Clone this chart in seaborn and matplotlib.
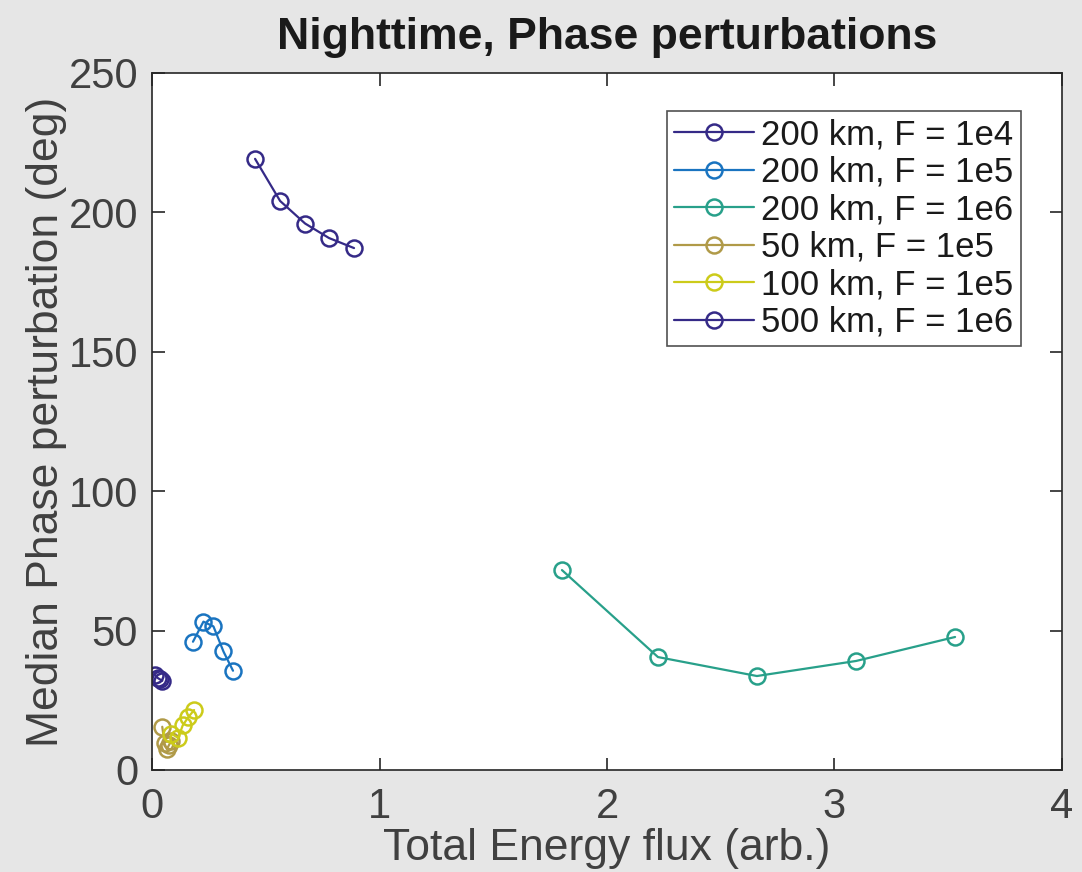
import matplotlib
matplotlib.use("Agg")
import matplotlib.pyplot as plt
import seaborn as sns
import pandas as pd

labels = ["200 km, F = 1e4", "200 km, F = 1e5", "200 km, F = 1e6",
          "50 km, F = 1e5", "100 km, F = 1e5", "500 km, F = 1e6"]
colors = ["#352a87", "#1a74c0", "#28a08a", "#b09a48", "#cccb1a", "#352a87"]

x_200_1e4 = [0.015, 0.025, 0.035, 0.045]
y_200_1e4 = [34.0, 33.0, 32.5, 32.0]
x_200_1e5 = [0.18, 0.226, 0.27, 0.314, 0.356]
y_200_1e5 = [46.0, 53.2, 51.5, 42.5, 35.6]
x_200_1e6 = [1.802, 2.224, 2.659, 3.095, 3.53]
y_200_1e6 = [71.7, 40.5, 33.7, 39.1, 47.7]
x_50_1e5 = [0.045, 0.055, 0.065, 0.075, 0.085]
y_50_1e5 = [15.5, 9.5, 7.5, 9.0, 10.5]
x_100_1e5 = [0.085, 0.115, 0.135, 0.16, 0.185]
y_100_1e5 = [13.0, 11.5, 16.0, 19.0, 21.5]
x_500_1e6 = [0.453, 0.563, 0.673, 0.778, 0.888]
y_500_1e6 = [219.2, 204.1, 196.0, 190.8, 187.2]

xs = [x_200_1e4, x_200_1e5, x_200_1e6, x_50_1e5, x_100_1e5, x_500_1e6]
ys = [y_200_1e4, y_200_1e5, y_200_1e6, y_50_1e5, y_100_1e5, y_500_1e6]

sns.set_theme(style="white")
plt.rcParams['font.family'] = ['Liberation Sans', 'DejaVu Sans']

fig = plt.figure(figsize=(10.82, 8.72), dpi=100)
fig.patch.set_facecolor("#e6e6e6")
ax = fig.add_axes([0.1405, 0.117, 0.841, 0.7993])
ax.set_facecolor("white")

for xv, yv, lab, c in zip(xs, ys, labels, colors):
    df = pd.DataFrame({"x": xv, "y": yv})
    sns.lineplot(data=df, x="x", y="y", ax=ax, color=c, marker="o",
                 markersize=11.5, markerfacecolor="none", markeredgecolor=c,
                 markeredgewidth=1.8, linewidth=1.6, sort=False,
                 estimator=None, label=lab)

ax.set_xlim(0, 4)
ax.set_ylim(0, 250)
ax.set_xticks([0, 1, 2, 3, 4])
ax.set_yticks([0, 50, 100, 150, 200, 250])
ax.tick_params(direction="in", length=9, width=1.2, colors="#262626",
               labelsize=30, top=True, right=True, bottom=True, left=True)
ax.tick_params(axis="x", pad=12)
ax.tick_params(axis="y", pad=10)
for tl in ax.get_xticklabels() + ax.get_yticklabels():
    tl.set_color("#404040")
for s in ax.spines.values():
    s.set_color("#262626")
    s.set_linewidth(1.2)

ax.set_xlabel("Total Energy flux (arb.)", fontsize=32, color="#404040", labelpad=1)
ax.set_ylabel("Median Phase perturbation (deg)", fontsize=32, color="#404040", labelpad=1)
ax.set_title("Nighttime, Phase perturbations", fontsize=32, fontweight="bold",
             color="#1a1a1a", pad=17)

leg = ax.legend(loc="upper right", bbox_to_anchor=(0.955, 0.946), fontsize=25,
                frameon=True, fancybox=False, edgecolor="#262626",
                handlelength=2.3, handletextpad=0.2, borderpad=0.22,
                labelspacing=0.13, borderaxespad=0)
leg.get_frame().set_linewidth(1.2)
for t in leg.get_texts():
    t.set_color("#1a1a1a")

fig.savefig("out.png", dpi=100, facecolor=fig.get_facecolor())
